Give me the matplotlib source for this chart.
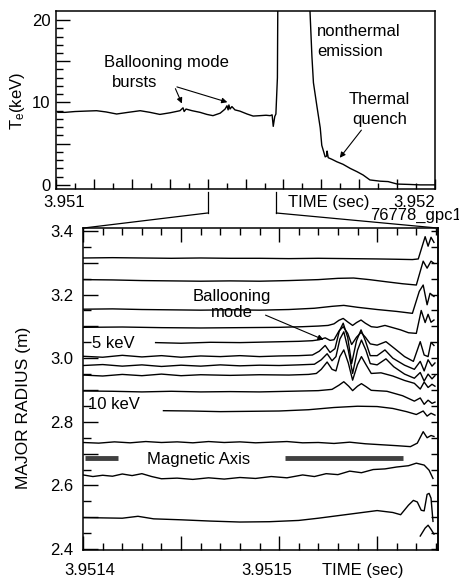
import numpy as np
import matplotlib
matplotlib.use("Agg")
import matplotlib.pyplot as plt
from matplotlib.patches import ConnectionPatch
from matplotlib.lines import Line2D
from matplotlib import transforms as mtransforms

plt.rcParams['font.family'] = ['Liberation Sans', 'DejaVu Sans']
plt.rcParams['mathtext.default'] = 'regular'

# ---------------- data ----------------
# Top panel: central Te, time in microseconds after 3.951 s
TOP_T0 = 3.951
top_us = [5, 24, 50, 77, 107, 132, 160, 190, 222, 248, 274, 301, 327, 335, 338, 343,
          359, 380, 398, 414, 433, 446, 451, 454, 456, 459, 464, 472, 485, 504, 520,
          538, 554, 565, 570, 573, 577, 580, 584, 586, 668, 670, 675, 679, 688, 697,
          701, 710, 714, 715, 718, 728, 741, 757, 776, 794, 810, 828, 855, 876, 900,
          934, 960, 1000]
top_te = [8.8, 8.8, 8.9, 8.95, 9.0, 8.85, 8.6, 8.8, 9.0, 8.8, 8.55, 8.75, 9.0, 9.35, 8.9, 9.2,
          9.0, 8.8, 8.55, 8.4, 8.7, 9.2, 9.6, 9.1, 9.7, 9.2, 9.5, 9.1, 8.95, 8.6, 8.35,
          8.4, 8.45, 8.4, 8.5, 7.1, 8.3, 8.6, 13.0, 30.0, 30.0, 21.0, 15.6, 12.4, 9.6, 6.9,
          4.8, 3.4, 3.5, 4.1, 3.3, 3.1, 2.8, 2.5, 2.0, 1.6, 1.2, 0.6, 0.45, 0.4, 0.1,
          0.05, 0.0, 0.0]

# Bottom panel: ECE channels, time in microseconds after 3.9514 s, position = major radius (m)
BOT_T0 = 3.9514
ch1_us = [0, 15, 30, 45, 60, 75, 90, 105, 120, 135, 150, 160, 168, 171, 174.5, 176, 177.5, 179]
ch1_r = [3.315, 3.316, 3.315, 3.314, 3.315, 3.314, 3.314, 3.313, 3.314, 3.313, 3.312, 3.311,
         3.310, 3.312, 3.382, 3.352, 3.380, 3.364]
ch2_us = [0, 15, 30, 45, 60, 75, 90, 105, 120, 130, 138, 146, 155, 163, 170, 173.5, 175.5, 177.5, 179]
ch2_r = [3.247, 3.246, 3.244, 3.243, 3.242, 3.243, 3.242, 3.244, 3.247, 3.251, 3.252, 3.247,
         3.240, 3.234, 3.230, 3.305, 3.283, 3.305, 3.298]
ch3_us = [0, 15, 30, 45, 60, 75, 90, 105, 118, 127, 133, 140, 150, 160, 168, 171.5, 173.5, 175.5, 177, 179]
ch3_r = [3.154, 3.155, 3.153, 3.152, 3.151, 3.152, 3.151, 3.153, 3.157, 3.163, 3.166, 3.160,
         3.153, 3.147, 3.141, 3.210, 3.230, 3.168, 3.204, 3.194]
ch4_us = [0, 20, 40, 60, 80, 100, 112, 120, 125, 128, 130.5, 132.7, 135, 137.5, 139.5, 141.8,
          144, 147, 150, 154, 158, 162, 166, 170, 172.5, 174.5, 176, 177.5, 179]
ch4_r = [3.097, 3.098, 3.096, 3.095, 3.096, 3.097, 3.099, 3.101, 3.103, 3.108, 3.119, 3.125,
         3.114, 3.103, 3.112, 3.120, 3.110, 3.099, 3.097, 3.103, 3.096, 3.089, 3.080, 3.078,
         3.150, 3.112, 3.138, 3.113, 3.120]
ch5_us = [37, 50, 65, 80, 95, 110, 117, 120.5, 123.5, 126, 128, 130.5, 132.7, 135, 137, 139.5,
          141.8, 144, 146.5, 150, 154.5, 159, 164, 168.5, 172, 174, 176, 177.5, 179]
ch5_r = [3.049, 3.047, 3.050, 3.049, 3.051, 3.053, 3.055, 3.058, 3.064, 3.056, 3.058, 3.085,
         3.099, 3.078, 3.043, 3.066, 3.081, 3.066, 3.045, 3.041, 3.052, 3.030, 3.005, 2.990,
         3.052, 3.010, 3.005, 3.050, 3.040]
ch6_us = [0, 10, 20, 30, 40, 50, 60, 70, 80, 90, 100, 110, 117, 120.5, 123.5, 126, 128.5, 130.7,
          132.7, 135, 137, 139.5, 141.8, 144, 146.5, 150, 154, 158, 164, 169, 172, 174, 176,
          178, 179.5]
ch6_r = [3.006, 3.003, 3.009, 3.004, 3.008, 3.003, 3.007, 3.005, 3.008, 3.005, 3.007, 3.008,
         3.010, 3.022, 3.040, 3.018, 3.030, 3.085, 3.110, 3.065, 2.983, 3.055, 3.089, 3.055,
         3.008, 3.008, 3.026, 3.000, 2.978, 2.965, 2.990, 2.960, 2.995, 2.975, 2.985]
ch7_us = [0, 10, 20, 30, 40, 50, 60, 70, 80, 90, 100, 110, 118, 121.5, 124.5, 127, 129, 131,
          133, 135.3, 137.5, 140, 142, 144.3, 146.5, 150, 154.5, 158.5, 164, 169, 172, 174,
          176, 178, 179.5]
ch7_r = [2.977, 2.980, 2.975, 2.979, 2.974, 2.978, 2.975, 2.979, 2.976, 2.978, 2.977, 2.979,
         2.981, 2.995, 3.014, 2.992, 3.005, 3.060, 3.083, 3.025, 2.952, 3.025, 3.057, 3.025,
         2.983, 2.979, 2.998, 2.973, 2.950, 2.937, 2.955, 2.928, 2.950, 2.935, 2.945]
ch8_us = [0, 10, 20, 30, 40, 50, 60, 75, 90, 105, 115, 119, 121.5, 124.5, 127, 129, 131, 133,
          135.3, 137.5, 140, 142, 144.3, 147, 152, 158, 164, 169, 172, 174, 176, 178, 179.5]
ch8_r = [2.947, 2.944, 2.949, 2.945, 2.950, 2.945, 2.948, 2.946, 2.948, 2.947, 2.949, 2.952,
         2.965, 2.988, 2.965, 2.960, 3.005, 3.026, 2.985, 2.931, 2.980, 3.005, 2.980, 2.952,
         2.954, 2.944, 2.930, 2.921, 2.903, 2.925, 2.908, 2.918, 2.912]
ch9_us = [0, 15, 30, 45, 60, 75, 90, 105, 120, 127, 130.5, 133, 135.5, 137.5, 140, 142, 144.5,
          147, 155, 163, 169, 172, 174, 176, 178, 179.5]
ch9_r = [2.897, 2.896, 2.894, 2.896, 2.894, 2.895, 2.894, 2.896, 2.898, 2.902, 2.915, 2.926,
         2.912, 2.898, 2.912, 2.920, 2.910, 2.899, 2.896, 2.882, 2.865, 2.875, 2.855, 2.868,
         2.858, 2.862]
ch10_us = [41, 55, 70, 85, 100, 115, 128, 140, 150, 158, 165, 170, 173.5, 175.5, 177.5, 179.5]
ch10_r = [2.835, 2.834, 2.832, 2.833, 2.834, 2.838, 2.845, 2.849, 2.848, 2.842, 2.832, 2.823,
          2.834, 2.818, 2.827, 2.821]
ch11_us = [0, 8, 16, 24, 32, 40, 48, 56, 64, 72, 80, 88, 96, 104, 112, 120, 128, 136, 144, 152,
           160, 167, 170.5, 173.5, 175.5, 177.5, 179]
ch11_r = [2.735, 2.733, 2.737, 2.734, 2.738, 2.735, 2.737, 2.734, 2.738, 2.735, 2.737, 2.734,
          2.736, 2.738, 2.734, 2.735, 2.732, 2.736, 2.731, 2.728, 2.725, 2.722, 2.733, 2.769,
          2.750, 2.757, 2.754]
ch12_us = [0, 5, 10, 15, 20, 25, 30, 35, 40, 48, 56, 64, 72, 80, 88, 96, 104, 112, 118, 124,
           130, 136, 142, 148, 154, 160, 166, 170, 174, 176.5, 178.5]
ch12_r = [2.633, 2.628, 2.632, 2.629, 2.636, 2.631, 2.637, 2.628, 2.621, 2.623, 2.619, 2.624,
          2.620, 2.625, 2.622, 2.628, 2.624, 2.633, 2.628, 2.637, 2.634, 2.645, 2.640, 2.650,
          2.652, 2.658, 2.662, 2.670, 2.664, 2.648, 2.622]
ch13_us = [0, 10, 20, 28, 36, 50, 65, 80, 95, 110, 120, 130, 140, 150, 158, 162, 166, 168.5,
           170.5, 172.5, 174, 175.5, 176.5, 177.5, 178.5]
ch13_r = [2.499, 2.498, 2.497, 2.503, 2.495, 2.492, 2.488, 2.485, 2.486, 2.490, 2.497, 2.505,
          2.513, 2.521, 2.515, 2.508, 2.538, 2.553, 2.548, 2.522, 2.520, 2.572, 2.575, 2.560, 2.487]
ch14_us = [172, 174.5, 176, 177.5, 179]
ch14_r = [2.441, 2.466, 2.475, 2.462, 2.447]

axis_r = 2.685
axis_seg1_us = [1, 18]
axis_seg2_us = [103, 163]

channels = [(ch1_us, ch1_r), (ch2_us, ch2_r), (ch3_us, ch3_r), (ch4_us, ch4_r),
            (ch5_us, ch5_r), (ch6_us, ch6_r), (ch7_us, ch7_r), (ch8_us, ch8_r),
            (ch9_us, ch9_r), (ch10_us, ch10_r), (ch11_us, ch11_r), (ch12_us, ch12_r),
            (ch13_us, ch13_r), (ch14_us, ch14_r)]

FS = 12

# ---------------- figure ----------------
fig = plt.figure(figsize=(4.59, 5.78), dpi=100)
ax1 = fig.add_axes([0.122, 0.673, 0.826, 0.308])
ax2 = fig.add_axes([0.181, 0.0484, 0.773, 0.557])

for ax in (ax1, ax2):
    for s in ax.spines.values():
        s.set_linewidth(1.1)

# ---- top panel ----
ax1.plot(TOP_T0 + np.array(top_us) * 1e-6, top_te, color='k', lw=1.0)
ax1.set_xlim(3.951, 3.952)
ax1.set_ylim(-0.5, 21.1)

xt = np.round(3.951 + 0.0001 * np.arange(11), 5)
ax1.set_xticks(xt)
ax1.set_xticklabels(['3.951'] + [''] * 9 + ['3.952'])
ax1.set_xticks(np.round(3.95105 + 0.0001 * np.arange(10), 6), minor=True)
ax1.tick_params(axis='x', which='major', direction='in', length=7, width=1, top=False,
                pad=4, labelsize=FS)
ax1.tick_params(axis='x', which='minor', direction='in', length=4, width=1, top=False)
ax1.set_yticks([0, 5, 10, 15, 20])
ax1.set_yticklabels(['0', '', '10', '', '20'])
ax1.set_yticks(np.arange(1, 20, 1), minor=True)
ax1.tick_params(axis='y', which='major', direction='in', length=10, width=1, right=False,
                pad=4, labelsize=FS)
ax1.tick_params(axis='y', which='minor', direction='in', length=5, width=1, right=False)

labs = ax1.get_xticklabels()
labs[0].set_transform(labs[0].get_transform() +
                      mtransforms.ScaledTranslation(6 / 72, 0, fig.dpi_scale_trans))
labs[-1].set_horizontalalignment('right')

ax1.text(0.290, 0.708, 'Ballooning mode', transform=ax1.transAxes, ha='center', va='center', fontsize=FS)
ax1.text(0.208, 0.601, 'bursts', transform=ax1.transAxes, ha='center', va='center', fontsize=FS)
for head in [(0.335, 0.466), (0.459, 0.483)]:
    ax1.annotate('', xy=head, xycoords='axes fraction', xytext=(0.312, 0.578),
                 textcoords='axes fraction',
                 arrowprops=dict(arrowstyle='-|>', color='k', lw=0.8, mutation_scale=8))
ax1.text(0.689, 0.882, 'nonthermal', transform=ax1.transAxes, ha='left', va='center', fontsize=FS)
ax1.text(0.689, 0.775, 'emission', transform=ax1.transAxes, ha='left', va='center', fontsize=FS)
ax1.text(0.852, 0.500, 'Thermal', transform=ax1.transAxes, ha='center', va='center', fontsize=FS)
ax1.text(0.855, 0.393, 'quench', transform=ax1.transAxes, ha='center', va='center', fontsize=FS)
ax1.annotate('', xy=(0.744, 0.163), xycoords='axes fraction', xytext=(0.810, 0.343),
             textcoords='axes fraction',
             arrowprops=dict(arrowstyle='-|>', color='k', lw=0.8, mutation_scale=8))

fig.text(0.038, 0.825, 'T$_e$(keV)', rotation=90, ha='center', va='center', fontsize=FS)
fig.text(0.717, 0.649, 'TIME (sec)', ha='center', va='center', fontsize=FS)
fig.text(0.806, 0.627, '76778_gpc1', ha='left', va='center', fontsize=FS)

# ---- bottom panel ----
for us, r in channels:
    ax2.plot(BOT_T0 + np.array(us) * 1e-6, r, color='k', lw=1.0)
for seg in (axis_seg1_us, axis_seg2_us):
    ax2.plot(BOT_T0 + np.array(seg) * 1e-6, [axis_r, axis_r], color='0.25', lw=3.5,
             solid_capstyle='butt')

x_end = BOT_T0 + 181e-6
ax2.set_xlim(BOT_T0, x_end)
ax2.set_ylim(2.397, 3.409)

bxt = np.round(3.9514 + 0.00005 * np.arange(4), 6)
ax2.set_xticks(bxt)
ax2.set_xticklabels(['3.9514', '', '3.9515', ''])
ax2.set_xticks(np.round(3.95141 + 0.00001 * np.arange(18), 6), minor=True)
ax2.tick_params(axis='x', which='major', direction='in', length=10, width=1, top=True,
                pad=9, labelsize=FS)
ax2.tick_params(axis='x', which='minor', direction='in', length=5, width=1, top=True)
yt = np.round(2.4 + 0.1 * np.arange(11), 2)
ymt = np.round(2.45 + 0.1 * np.arange(10), 2)
ax2.set_yticks(yt)
ax2.set_yticklabels([f'{v:.1f}' if i % 2 == 0 else '' for i, v in enumerate(yt)])
ax2.set_yticks(ymt, minor=True)
ax2.tick_params(axis='y', which='major', direction='in', length=11, width=1, right=False,
                pad=7, labelsize=FS)
ax2.tick_params(axis='y', which='minor', direction='in', length=6, width=1, right=False)

sec = ax2.secondary_yaxis('right')
sec.set_yticks(yt)
sec.set_yticklabels([''] * len(yt))
sec.set_yticks(ymt, minor=True)
sec.tick_params(axis='y', which='both', direction='in', length=5, width=1)
sec.spines['right'].set_linewidth(1.1)

blabs = ax2.get_xticklabels()
blabs[0].set_transform(blabs[0].get_transform() +
                       mtransforms.ScaledTranslation(5 / 72, 0, fig.dpi_scale_trans))
blabs[2].set_transform(blabs[2].get_transform() +
                       mtransforms.ScaledTranslation(-9 / 72, 0, fig.dpi_scale_trans))

ax2.text(0.42, 0.762, 'Ballooning\nmode', transform=ax2.transAxes, ha='center', va='center',
         fontsize=FS, linespacing=1.1)
ax2.annotate('', xy=(0.685, 0.650), xycoords='axes fraction', xytext=(0.507, 0.733),
             textcoords='axes fraction',
             arrowprops=dict(arrowstyle='-|>', color='k', lw=0.8, mutation_scale=8))
ax2.text(0.025, 0.641, '5 keV', transform=ax2.transAxes, ha='left', va='center', fontsize=FS)
ax2.text(0.015, 0.452, '10 keV', transform=ax2.transAxes, ha='left', va='center', fontsize=FS)
ax2.text(0.325, 0.280, 'Magnetic Axis', transform=ax2.transAxes, ha='center', va='center', fontsize=FS)

fig.text(0.051, 0.294, 'MAJOR RADIUS (m)', rotation=90, ha='center', va='center', fontsize=12.5)
fig.text(0.791, 0.0138, 'TIME (sec)', ha='center', va='center', fontsize=FS)

# ---- zoom connection lines ----
trans_top = mtransforms.blended_transform_factory(ax1.transData, fig.transFigure)
y_a, y_b = 0.668, 0.6315
for xv, corner in ((BOT_T0, (0, 1)), (x_end, (1, 1))):
    fig.add_artist(Line2D([xv, xv], [y_a, y_b], transform=trans_top, color='k', lw=0.9))
    fig.add_artist(ConnectionPatch(xyA=(xv, y_b), coordsA=trans_top, xyB=corner,
                                   coordsB=ax2.transAxes, color='k', lw=0.9))

fig.savefig('out.png', dpi=100)
